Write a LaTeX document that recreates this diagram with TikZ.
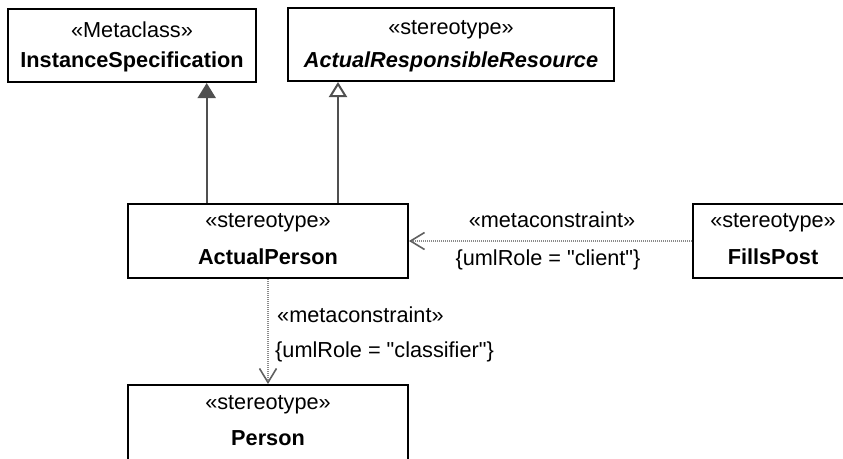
\documentclass[tikz,border=0pt]{standalone}
\usepackage{fontspec}
\setmainfont{Liberation Sans}
\usetikzlibrary{arrows.meta}
\definecolor{linegray}{HTML}{505050}
\definecolor{dotgray}{HTML}{8A8A8A}
\definecolor{headgray}{HTML}{606060}
\begin{document}
\begin{tikzpicture}[x=1pt,y=-1pt,
  box/.style={draw=black, line width=2pt, fill=white, inner sep=0pt},
  txt/.style={inner sep=0pt, font=\fontsize{21.7pt}{26pt}\selectfont},
  btxt/.style={inner sep=0pt, font=\fontsize{21.7pt}{26pt}\selectfont\bfseries},
  gen/.style={draw=linegray, line width=2pt},
  meta/.style={draw=dotgray, line width=1.6pt, dash pattern=on 1.2pt off 0.8pt,
    -{Straight Barb[length=14pt,width=17pt,line width=1.6pt,color=headgray]}}
]
\clip (0,0) rectangle (843,458);
\fill[white] (0,0) rectangle (843,458);

% boxes
\node[box, minimum width=248pt, minimum height=73.5pt] (inst) at (132,45.3) {};
\node[box, minimum width=326pt, minimum height=73pt] (arr) at (451,44.5) {};
\node[box, minimum width=280pt, minimum height=74pt] (actual) at (268,241) {};
\node[box, minimum width=180pt, minimum height=74pt] (fills) at (783,241) {};
\node[box, minimum width=280pt, minimum height=100pt] (person) at (268,435) {};

% texts
\node[txt] (instS) at (132,30) {«Metaclass»};
\node[btxt] (instN) at (132,62) {InstanceSpecification};
\node[txt] (arrS) at (451,30) {«stereotype»};
\node[btxt, font=\fontsize{21.7pt}{26pt}\selectfont\bfseries\itshape] (arrN) at (451,62) {ActualResponsibleResource};
\node[txt] (actS) at (268,223) {«stereotype»};
\node[btxt] (actN) at (268,257) {ActualPerson};
\node[txt] (filS) at (773,223) {«stereotype»};
\node[btxt] (filN) at (773,257) {FillsPost};
\node[txt] (perS) at (268,405) {«stereotype»};
\node[btxt] (perN) at (268,438) {Person};

% generalization / extension arrows
\draw[gen, -{Triangle[length=15pt,width=18pt,fill=linegray]}]
  (actual.north -| 206.7,0) -- (inst.south -| 206.7,0);
\draw[gen, -{Triangle[open,length=15pt,width=18pt,fill=white]}]
  (actual.north -| 338,0) -- (arr.south -| 338,0);

% metaconstraints
\draw[meta] (fills.west) -- (actual.east);
\node[txt] (m1) at (552,220) {«metaconstraint»};
\node[txt] (r1) at (548,260) {\{umlRole = \textquotedbl client\textquotedbl\}};

\draw[meta] (actual.south) -- (person.north);
\node[txt, anchor=west] (m2) at (277,315) {«metaconstraint»};
\node[txt, anchor=west] (r2) at (275,352) {\{umlRole = \textquotedbl classifier\textquotedbl\}};
\end{tikzpicture}
\end{document}
